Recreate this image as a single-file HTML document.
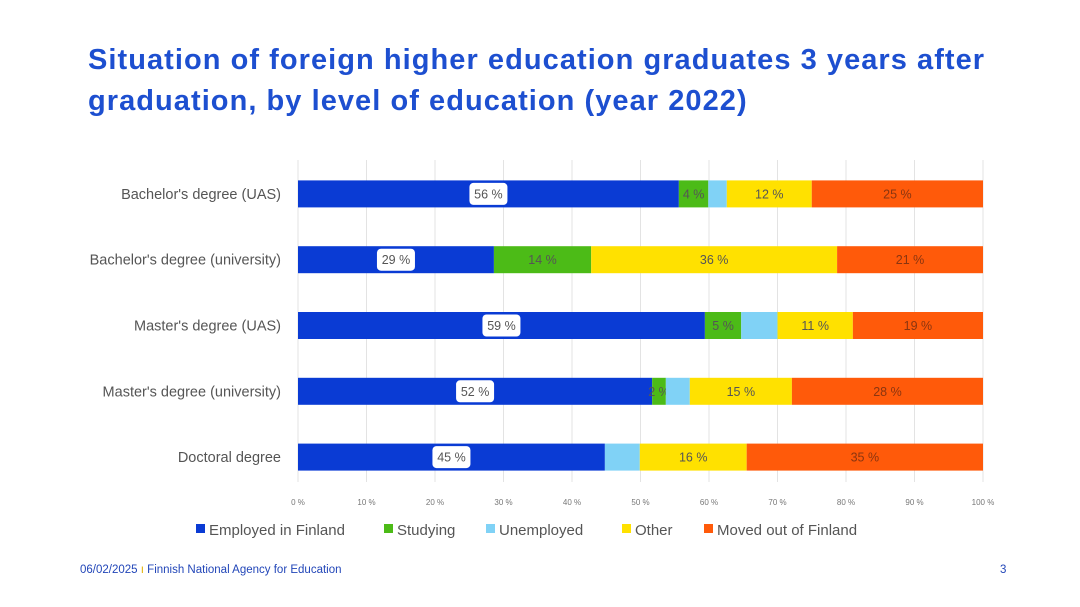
<!DOCTYPE html>
<html><head><meta charset="utf-8">
<style>
body{margin:0;background:#fff;width:1080px;height:607px;overflow:hidden;font-family:"Liberation Sans",sans-serif;}
#title{position:absolute;left:88px;top:40px;font-size:29px;font-weight:bold;color:#1d4fd0;line-height:41px;letter-spacing:1.05px;}
#foot{position:absolute;left:80px;top:564px;font-size:11.5px;color:#2246b8;}
#pg{position:absolute;left:1000px;top:564px;font-size:11.5px;color:#2246b8;}
svg{position:absolute;left:0;top:0;}
</style></head><body>
<div id="title">Situation of foreign higher education graduates 3 years after<br>graduation, by level of education (year 2022)</div>
<svg id="chart" width="1080" height="607"></svg>
<div id="foot">06/02/2025 <span style="color:#e0b000">ı</span> Finnish National Agency for Education</div>
<div id="pg">3</div>
<script>
const categories=["Bachelor's degree (UAS)","Bachelor's degree (university)","Master's degree (UAS)","Master's degree (university)","Doctoral degree"];
const seriesNames=["Employed in Finland","Studying","Unemployed","Other","Moved out of Finland"];
const employed=[55.6,28.6,59.4,51.7,44.8];
const studying=[4.3,14.2,5.3,2.0,0];
const unemployed=[2.7,0,5.3,3.5,5.1];
const other=[12.4,35.9,11.0,14.9,15.6];
const moved=[25.0,21.3,19.0,27.9,34.5];
const ticks=[0,10,20,30,40,50,60,70,80,90,100];
const series=[employed,studying,unemployed,other,moved];
const colors=["#0a3bd4","#4cbb17","#80d2f6","#ffe100","#ff5a0a"];
const ns="http://www.w3.org/2000/svg";
const svg=document.getElementById('chart');
const x0=298,x1=983,yTop=160,yBot=482,bandTop=161,band=65.8,barH=27;
const xs=v=>x0+(x1-x0)*v/100;
const yc=i=>bandTop+band*i+band/2;
function mk(tag,attrs,parent){const e=document.createElementNS(ns,tag);for(const k in attrs)e.setAttribute(k,attrs[k]);(parent||svg).appendChild(e);return e;}
ticks.forEach(t=>{
 const l=mk('line',{x1:xs(t),x2:xs(t),y1:yTop,y2:yBot,stroke:'#e3e3e3','stroke-width':1});
 
 
 const tx=mk('text',{x:xs(t),y:505,'font-size':8,fill:'#777','text-anchor':'middle'});
 tx.textContent=t+' %';
 
 
});
categories.forEach((c,i)=>{
 const tl=mk('text',{x:281,y:yc(i)+5,'font-size':14.5,fill:'#555','text-anchor':'end'});
 tl.textContent=c;
 
 
 let acc=0;
 series.forEach((s,j)=>{
  const v=s[i];
  const r=mk('rect',{x:xs(acc),y:yc(i)-barH/2,width:xs(acc+v)-xs(acc),height:barH,fill:colors[j]});
  
  
  const cx=(xs(acc)+xs(acc+v))/2;
  const lbl=Math.round(v)+' %';
  if(j===0){
   const b=mk('rect',{x:cx-19,y:yc(i)-11,width:38,height:22,rx:4,fill:'#fff'});
   
   
  }
  if(v>=1&&j!==2){
   const t=mk('text',{x:cx,y:yc(i)+4.5,'font-size':12.5,fill:j===4?'#8a3510':'#555','text-anchor':'middle'});
   t.textContent=lbl;
   
   
  }
  acc+=v;
 });
});
const legX=[196,384,486,622,704];
seriesNames.forEach((n,j)=>{
 const sq=mk('rect',{x:legX[j],y:524,width:9,height:9,fill:colors[j]});
 
 
 const t=mk('text',{x:legX[j]+13,y:535,'font-size':15,fill:'#555'});
 t.textContent=n;
 
 
});
</script>
</body></html>
